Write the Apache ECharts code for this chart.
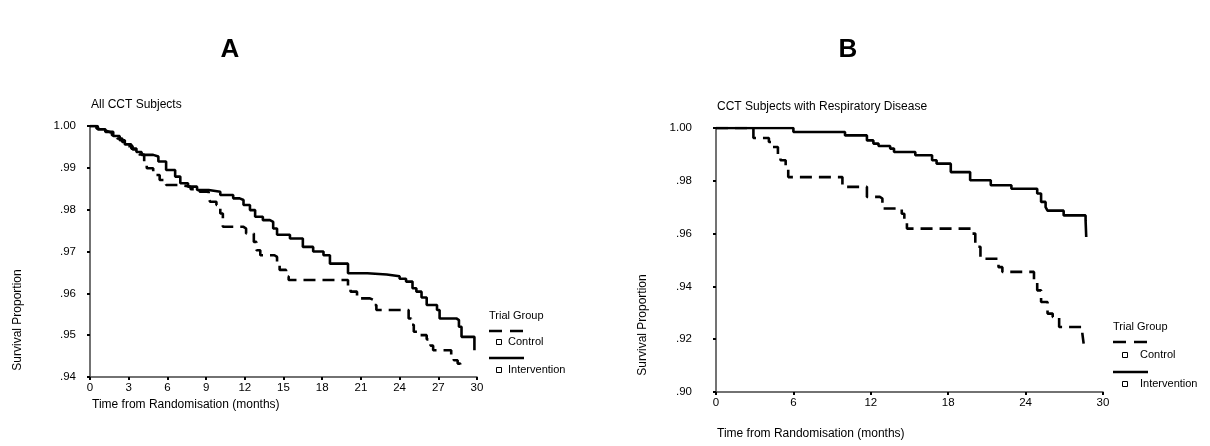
<!DOCTYPE html>
<html>
<head>
<meta charset="utf-8">
<script src="https://cdn.jsdelivr.net/npm/echarts@6/dist/echarts.min.js"></script>
<style>
  html, body { margin: 0; padding: 0; background: #fff; }
  #main { width: 1210px; height: 446px; }
</style>
</head>
<body>
<div id="main"></div>
<script>
// Panel A - all CCT subjects (months, survival proportion)
var ctrlATime = [0, 0.5, 0.9, 1.3, 1.7, 2.1, 2.5, 2.9, 3.3, 3.8, 4.2, 4.4, 4.9, 5.4, 5.9, 7.0, 7.8, 8.5, 9.2, 9.3, 9.8, 10.1, 10.3, 11.9, 12.1, 12.7, 12.9, 13.2, 14.3, 14.5, 14.7, 15.2, 15.4, 20.0, 20.2, 20.7, 21.7, 22.0, 22.2, 24.7, 24.9, 25.1, 25.6, 26.1, 26.4, 26.6, 28.0, 28.2, 28.5, 28.7];
var ctrlASurv = [1.0, .9994, .9988, .9984, .9978, .997, .9962, .9952, .9944, .9932, .9915, .9899, .9883, .9871, .9859, .9855, .9849, .9843, .9831, .9819, .9811, .9791, .9759, .9755, .9743, .9723, .9703, .9691, .9687, .9671, .9656, .964, .9632, .9615, .9604, .9588, .9584, .9572, .956, .954, .9525, .9508, .95, .949, .9475, .9464, .9448, .944, .9432, .942];
var intvATime = [0, 0.6, 1.2, 1.8, 2.3, 2.7, 3.2, 3.6, 4.0, 4.9, 5.3, 5.9, 6.6, 7.0, 7.6, 8.3, 9.2, 10.1, 11.1, 11.6, 11.9, 12.4, 12.8, 13.4, 13.95, 14.2, 14.5, 15.5, 16.5, 17.3, 18.1, 18.6, 20.0, 21.5, 23.0, 24.0, 24.5, 25.0, 25.3, 25.7, 26.1, 26.9, 27.1, 28.4, 28.6, 28.8, 29.8];
var intvASurv = [1.0, .9992, .9986, .9976, .9966, .9956, .9946, .9938, .9931, .9927, .9915, .9895, .9879, .9863, .9855, .9847, .9843, .9835, .9827, .9823, .9811, .9799, .9783, .9775, .9771, .9755, .974, .9731, .9711, .97, .9691, .9671, .9648, .9645, .9641, .9635, .9628, .9612, .9604, .959, .9572, .956, .954, .9536, .952, .9496, .9464];

// Panel B - CCT subjects with respiratory disease
var ctrlBTime = [0, 2.9, 4.1, 4.3, 4.8, 5.0, 5.4, 5.6, 9.8, 11.7, 12.7, 12.9, 14.4, 14.6, 14.8, 19.8, 20.1, 20.5, 21.9, 22.2, 24.65, 24.9, 25.2, 25.7, 26.1, 26.6, 28.4, 28.5];
var ctrlBSurv = [1.0, .9962, .9947, .9928, .989, .9878, .9852, .9814, .9777, .9739, .9733, .9695, .9675, .965, .9619, .96, .955, .9505, .9473, .9455, .9423, .9385, .9341, .9297, .9284, .9246, .9221, .9183];
var intvBTime = [0, 6.0, 10.0, 11.7, 12.2, 12.6, 13.5, 13.8, 15.45, 16.75, 17.1, 18.2, 19.7, 21.3, 22.9, 24.9, 25.2, 25.55, 25.7, 26.95, 28.65, 28.7];
var intvBSurv = [1.0, .9985, .9972, .9953, .9941, .9932, .9922, .9909, .9897, .9878, .9865, .9833, .9802, .9783, .977, .9752, .972, .970, .9687, .9669, .965, .9587];

var FONT = 'Liberation Sans, Arial, sans-serif';

function pairs(t, s) {
    return t.map(function (x, i) { return [x, s[i]]; });
}
function propLabel(v) {
    var s = v.toFixed(2);
    return s.charAt(0) === '0' ? s.slice(1) : s;
}
function xAx(idx, interval) {
    return {
        gridIndex: idx, type: 'value', min: 0, max: 30, interval: interval,
        axisLine: { lineStyle: { color: '#444', width: 1.5 } },
        axisTick: { length: 3, lineStyle: { color: '#000', width: 2 } },
        axisLabel: { color: '#000', fontSize: 11.5, fontFamily: FONT, margin: 5 },
        splitLine: { show: false }
    };
}
function yAx(idx, min, interval, margin) {
    return {
        gridIndex: idx, type: 'value', min: min, max: 1.0, interval: interval,
        axisLine: { show: true, lineStyle: { color: '#444', width: 1.5 } },
        axisTick: { show: true, length: 3, lineStyle: { color: '#000', width: 2 } },
        axisLabel: { color: '#000', fontSize: 11.5, fontFamily: FONT, margin: margin, formatter: propLabel },
        splitLine: { show: false }
    };
}
function kmLine(name, xi, data, dashed) {
    return {
        name: name, type: 'line', step: 'end', xAxisIndex: xi, yAxisIndex: xi,
        symbol: 'none', data: data, animation: false,
        lineStyle: { color: '#000', width: 2.6, type: dashed ? [12, 7] : 'solid' }
    };
}
function txt(x, y, s, opt) {
    opt = opt || {};
    return {
        type: 'text', x: x, y: y, rotation: opt.rot || 0,
        style: {
            text: s, fill: '#000', font: (opt.weight || 'normal') + ' ' + (opt.size || 12) + 'px ' + FONT,
            textAlign: opt.align || 'left', textVerticalAlign: 'middle'
        }
    };
}
function legend(x, y, sq, tx, dy) {
    // y: "Trial Group" row; dy: offsets for the rows below it
    return [
        txt(x, y, 'Trial Group', { size: 11 }),
        { type: 'line', shape: { x1: x, y1: y + dy[0], x2: x + 35, y2: y + dy[0] }, style: { stroke: '#000', lineWidth: 2.5, lineDash: [13, 8] } },
        { type: 'rect', shape: { x: x + sq - 2.5, y: y + dy[1] - 2.5, width: 5, height: 5 }, style: { fill: '#fff', stroke: '#000', lineWidth: 1 } },
        txt(x + tx, y + dy[1], 'Control', { size: 11 }),
        { type: 'line', shape: { x1: x, y1: y + dy[2], x2: x + 35, y2: y + dy[2] }, style: { stroke: '#000', lineWidth: 2.5 } },
        { type: 'rect', shape: { x: x + sq - 2.5, y: y + dy[3] - 2.5, width: 5, height: 5 }, style: { fill: '#fff', stroke: '#000', lineWidth: 1 } },
        txt(x + tx, y + dy[3], 'Intervention', { size: 11 })
    ];
}

var chart = echarts.init(document.getElementById('main'), null, { renderer: 'canvas' });
var option = {
    backgroundColor: '#fff',
    animation: false,
    grid: [
        { left: 90, top: 126, width: 387, height: 251 },
        { left: 716, top: 128, width: 387, height: 264 }
    ],
    xAxis: [xAx(0, 3), xAx(1, 6)],
    yAxis: [yAx(0, 0.94, 0.01, 14), yAx(1, 0.90, 0.02, 24)],
    series: [
        kmLine('Control', 0, pairs(ctrlATime, ctrlASurv), true),
        kmLine('Intervention', 0, pairs(intvATime, intvASurv), false),
        kmLine('Control', 1, pairs(ctrlBTime, ctrlBSurv), true),
        kmLine('Intervention', 1, pairs(intvBTime, intvBSurv), false)
    ],
    graphic: [
        txt(230, 50, 'A', { size: 26, weight: 'bold', align: 'center' }),
        txt(848, 50, 'B', { size: 26, weight: 'bold', align: 'center' }),
        txt(91, 105, 'All CCT Subjects'),
        txt(717, 107, 'CCT Subjects with Respiratory Disease'),
        txt(18, 320, 'Survival Proportion', { rot: Math.PI / 2, align: 'center' }),
        txt(643, 325, 'Survival Proportion', { rot: Math.PI / 2, align: 'center' }),
        txt(92, 405, 'Time from Randomisation (months)'),
        txt(717, 434, 'Time from Randomisation (months)')
    ].concat(legend(489, 316, 10, 19, [15, 26, 42, 54]))
     .concat(legend(1113, 327, 12, 27, [15, 28, 45, 57]))
};
chart.setOption(option);
</script>
</body>
</html>
